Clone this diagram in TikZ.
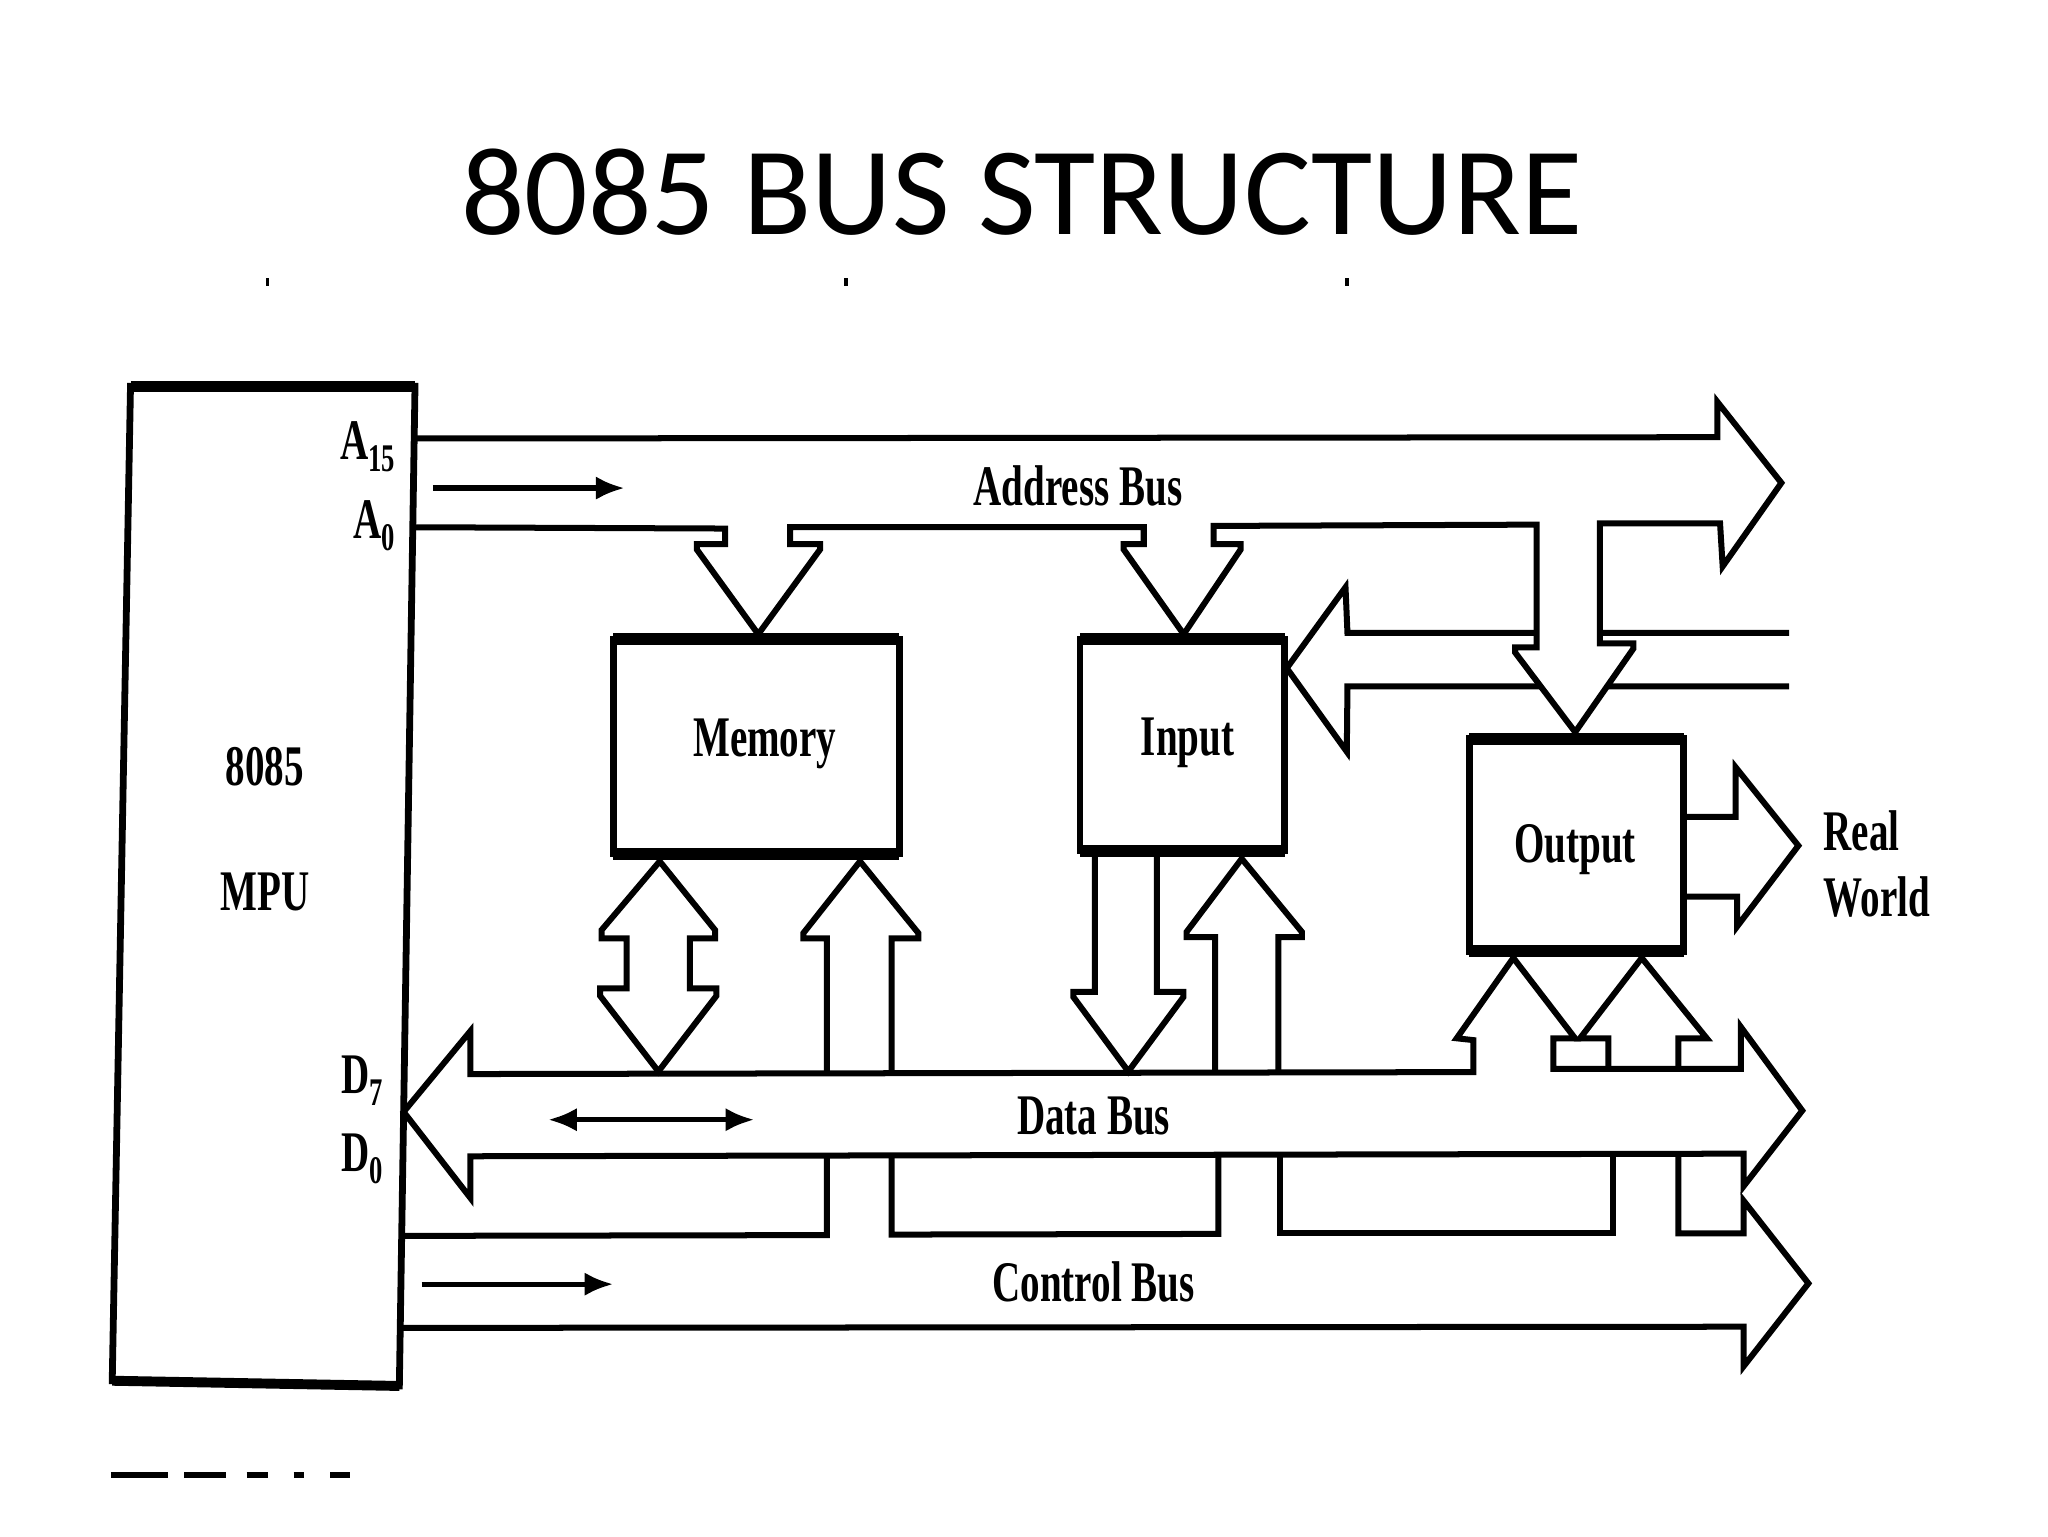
\documentclass[tikz,border=0pt]{standalone}
\usepackage{fontspec}
\setmainfont{Liberation Serif}
\newfontfamily\titlefont{Carlito}
\usetikzlibrary{arrows.meta}
\newcommand{\cond}[1]{\scalebox{0.68}[1]{#1}}
\newcommand{\subl}[1]{\raisebox{-0.45ex}{\fontsize{15}{15}\selectfont #1}}
\begin{document}
\begin{tikzpicture}[x=0.5pt,y=-0.5pt,
  bus/.style={line width=2.3pt, line join=miter, miter limit=4, black},
  boxedge/.style={line width=2.6pt, line join=miter},
  thickedge/.style={line width=4.6pt},
  lbl/.style={font=\fontsize{22}{24}\selectfont\bfseries, inner sep=0pt, anchor=base},
  smallarr/.style={line width=2pt, -{Latex[length=11pt,width=9pt]}},
  dblarr/.style={line width=2pt, {Latex[length=11pt,width=9pt]}-{Latex[length=11pt,width=9pt]}},
  blank/.style={draw=none, inner sep=0pt, outer sep=0pt}
]
\fill[white] (0,0) rectangle (1569.3,1177);
\useasboundingbox (0,0) rectangle (1569.3,1177);

% title
\node[font=\titlefont\fontsize{48}{58}\selectfont, inner sep=0pt] (title) at (783,147) {8085 BUS STRUCTURE};

% scan specks
\fill (203.5,213) rectangle (206.5,219);
\fill (646.5,213) rectangle (649.5,219);
\fill (1030.5,213) rectangle (1033.5,219);
\draw[line width=2.2pt, dash pattern=on 22pt off 6pt on 16pt off 8pt on 8pt off 10pt on 4pt off 10pt] (85,1130) -- (268,1130);

% MPU box
\coordinate (mpuTL) at (100,296);
\coordinate (mpuTR) at (318,296);
\coordinate (mpuBR) at (306,1062);
\coordinate (mpuBL) at (86,1058);
\draw[boxedge] (mpuTL) -- (mpuTR) -- (mpuBR) -- (mpuBL) -- cycle;
\draw[line width=4.2pt] (mpuTL) -- (mpuTR);
\draw[line width=3.8pt] (mpuBR) -- (mpuBL);
\node[lbl] (t8085) at (203,602) {\cond{8085}};
\node[lbl] (tMPU) at (203,698) {\cond{MPU}};
\node[lbl, anchor=base east] (tA15) at (303,352) {\cond{A\subl{15}}};
\node[lbl, anchor=base east] (tA0) at (303,413) {\cond{A\subl{0}}};
\node[lbl, anchor=base east] (tD7) at (294,838) {\cond{D\subl{7}}};
\node[lbl, anchor=base east] (tD0) at (294,898) {\cond{D\subl{0}}};

% Memory, Input, Output boxes
\node[blank, minimum width=109.5pt, minimum height=82pt] (mem) at (579.5,572) {};
\node[blank, minimum width=78.5pt, minimum height=81pt] (inp) at (906,571) {};
\node[blank, minimum width=82pt, minimum height=81.5pt] (out) at (1208,647.5) {};
\foreach \b in {mem,inp,out}{
  \draw[boxedge] (\b.north west) rectangle (\b.south east);
  \draw[thickedge] (\b.north west) -- (\b.north east);
  \draw[thickedge] (\b.south west) -- (\b.south east);
}
\node[lbl] (tMem) at (586,580) {\cond{Memory}};
\node[lbl] (tInp) at (910,579) {\cond{Input}};
\node[lbl] (tOut) at (1207,661) {\cond{Output}};

% input from real world
\draw[bus] (1371,485) -- (1032.5,485) -- (1031,450) -- (986,512) -- (1032,576) -- (1032.5,526) -- (1371,526);

% address bus with branches
\fill[white] (1177.5,402) -- (1177.5,500) -- (1161,500) -- (1207,561) -- (1251.6,497) -- (1226,497) -- (1226,401) -- cycle;
\draw[bus] (317.4,336) -- (1316,335) -- (1316,308) -- (1365,370) -- (1320,434) -- (1318,401)
  -- (1226,401) -- (1226,493) -- (1251.6,493) -- (1251.6,497) -- (1207,561) -- (1161,500) -- (1161,496) -- (1177.5,496) -- (1177.5,402)
  -- (930,403) -- (930,417) -- (950.7,417) -- (950.7,421) -- (907,486) -- (861,421) -- (861,417) -- (876.4,417) -- (876.4,404)
  -- (605.4,404) -- (605.4,417) -- (628.4,417) -- (628.4,421) -- (581,486) -- (533.9,421) -- (533.9,417) -- (555.6,417) -- (555.6,405)
  -- (316.3,404);
\draw[smallarr] (331.6,374) -- (478.6,374);
\node[lbl] (tAB) at (826,387) {\cond{Address Bus}};

% output to real world
\draw[bus] (out.east |- 0,626) -- (1330,626) -- (1330,588) -- (1378,648) -- (1331,710) -- (1331,687) -- (out.east |- 0,687);
\node[lbl, anchor=base west] (tReal) at (1397,652) {\cond{Real}};
\node[lbl, anchor=base west] (tWorld) at (1397,702) {\cond{World}};

% memory <-> data bus
\draw[bus] (505.5,660) -- (461,712.6) -- (461,719) -- (480.2,719) -- (480.2,757.3) -- (459.8,757.3) -- (459.8,763)
  -- (504.5,821) -- (549,763) -- (549,757.3) -- (528.7,757.3) -- (528.7,719) -- (547.9,719) -- (547.9,712.6) -- cycle;
% control -> memory
\draw[bus] (633.5,823) -- (633.5,719) -- (615.6,719) -- (615.6,715) -- (659,660) -- (703.7,715) -- (703.7,719) -- (683.3,719) -- (683.3,822.5);
% input -> data bus
\draw[bus] (839,652) -- (839,760) -- (822.5,760) -- (822.5,764) -- (864.6,821) -- (906.8,764) -- (906.8,760) -- (886.4,760) -- (886.4,652);
% control -> input
\draw[bus] (931,822) -- (931,718) -- (909.3,718) -- (909.3,714) -- (951.5,658) -- (997.5,714) -- (997.5,718) -- (979.6,718) -- (979.6,821.5);
% control -> output
\draw[bus] (1232.4,819) -- (1232.4,795.6) -- (1210.7,795.6) -- (1258,734) -- (1307.8,795.6) -- (1286,795.6) -- (1286,818.8);

% data bus (with branch to output)
\draw[bus] (1129,821.5) -- (360.5,823) -- (360.5,790) -- (309.3,852) -- (360.5,918) -- (360.5,886) -- (1336,884)
  -- (1336,909) -- (1381,851) -- (1334,787) -- (1334,819) -- (1190.3,819) -- (1190.3,795.6) -- (1206.9,795.6)
  -- (1159.6,734) -- (1116.2,795.6) -- (1129,797) -- cycle;
\draw[dblarr] (420,858) -- (578,858);
\node[lbl] (tDB) at (838,869) {\cond{Data Bus}};

% control bus
\draw[bus] (307.8,947) -- (633.5,946.4) -- (633.5,886.5);
\draw[bus] (683.3,886.3) -- (683.3,946) -- (933.6,945.5) -- (933.6,885.5);
\draw[bus] (980.8,885.3) -- (980.8,945) -- (1236,945) -- (1236,884.5);
\draw[bus] (1286,884.3) -- (1286,945) -- (1336,945) -- (1336,920) -- (1385.7,983.4) -- (1336,1047) -- (1336,1016.6) -- (306.7,1017.5);
\draw[smallarr] (323,984) -- (470,984);
\node[lbl] (tCB) at (838,997) {\cond{Control Bus}};
\end{tikzpicture}
\end{document}
